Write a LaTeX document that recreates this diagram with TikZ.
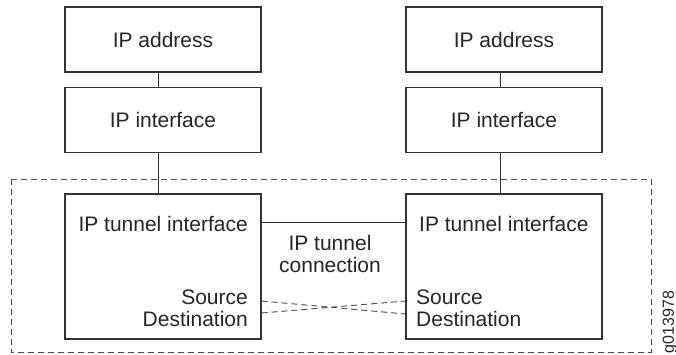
\documentclass[tikz,border=0pt]{standalone}
\usepackage{fontspec}
\setmainfont{Liberation Sans}
\begin{document}
\begin{tikzpicture}[x=1pt,y=-1pt,
  box/.style={draw=black!80, line width=1.1pt, minimum width=196pt, inner sep=0pt, text=black!85, font=\fontsize{21}{22}\selectfont},
  lbl/.style={inner sep=0pt, text=black!85, font=\fontsize{21}{22}\selectfont},
  wire/.style={draw=black!80, line width=1pt},
  dwire/.style={draw=black!70, line width=0.9pt, dash pattern=on 6pt off 4pt}]
\useasboundingbox (0,0) rectangle (676,354);
% upper boxes
\node[box, minimum height=65pt] (addrL) at (163,39.5) {IP address};
\node[box, minimum height=65pt] (ifL) at (163,120) {IP interface};
\node[box, minimum height=65pt] (addrR) at (504,39.5) {IP address};
\node[box, minimum height=65pt] (ifR) at (504,120) {IP interface};
% tunnel boxes
\node[box, minimum height=145pt] (tunL) at (163,266.5) {};
\node[box, minimum height=145pt] (tunR) at (504,266.5) {};
% outer dashed frame
\draw[dwire] (11,179) rectangle (651,352);
% texts in tunnel boxes
\node[lbl, anchor=east] (tiL) at (248,224) {IP tunnel interface};
\node[lbl, anchor=east] (srcL) at (248,297) {Source};
\node[lbl, anchor=east] (dstL) at (248,318.5) {Destination};
\node[lbl, anchor=west] (tiR) at (419,224) {IP tunnel interface};
\node[lbl, anchor=west] (srcR) at (416,297) {Source};
\node[lbl, anchor=west] (dstR) at (416,318.5) {Destination};
\node[lbl, align=center] (conn) at (330,254) {IP tunnel\\connection};
% vertical connectors
\draw[wire] ([xshift=-4.5pt]addrL.south) -- ([xshift=-4.5pt]ifL.north);
\draw[wire] ([xshift=-4.5pt]ifL.south) -- ([xshift=-4.5pt]tunL.north);
\draw[wire] ([xshift=-4pt]addrR.south) -- ([xshift=-4pt]ifR.north);
\draw[wire] ([xshift=-4pt]ifR.south) -- ([xshift=-4pt]tunR.north);
% tunnel connection
\draw[wire] (tunL.east |- 0,222) -- (tunR.west |- 0,222);
% crossing dashed lines
\coordinate (sL) at (tunL.east |- 0,301);
\coordinate (dL) at (tunL.east |- 0,313);
\coordinate (sR) at (tunR.west |- 0,301);
\coordinate (dR) at (tunR.west |- 0,314);
\draw[dwire] (sL) -- (dR);
\draw[dwire] (dL) -- (sR);
% figure id
\node[inner sep=0pt, rotate=90, text=black!85, font=\fontsize{16}{16}\selectfont] (fid) at (670,322) {g013978};
\end{tikzpicture}
\end{document}
